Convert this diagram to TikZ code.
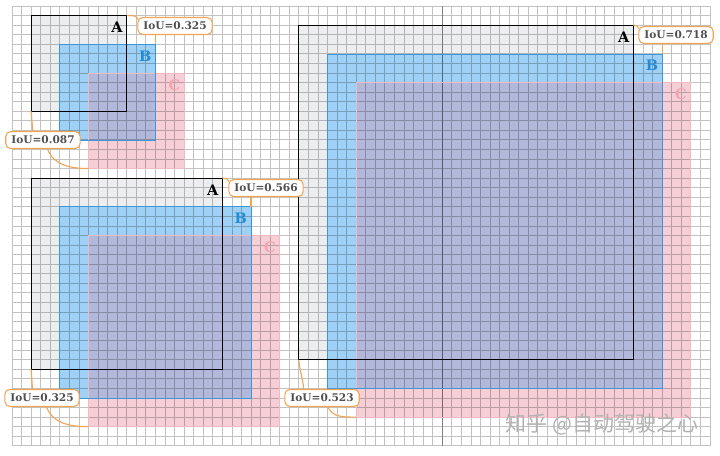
\documentclass[tikz,border=0pt]{standalone}
\usepackage{fontspec}
\newfontfamily\wmfont{Noto Sans CJK SC}
\newfontfamily\ioufont{DejaVu Serif}
\definecolor{boxgray}{RGB}{236,237,238}
\definecolor{boxblue}{RGB}{158,209,245}
\definecolor{boxpink}{RGB}{246,206,213}
\definecolor{boxmix}{RGB}{178,184,218}
\definecolor{lineblue}{RGB}{60,150,215}
\definecolor{linepink}{RGB}{240,185,195}
\definecolor{txtblue}{RGB}{35,140,215}
\definecolor{txtpink}{RGB}{242,165,175}
\definecolor{iouorange}{RGB}{240,165,85}
\definecolor{ioutext}{RGB}{80,80,80}
\def\cellsz{9.56pt}

\begin{document}
\begin{tikzpicture}[x=\cellsz, y=-\cellsz]
        \tikzstyle{every node}=[inner sep=0pt, outer sep=0pt]
        \tikzstyle{boxa}=[anchor=north west, fill=boxgray]
        \tikzstyle{boxb}=[anchor=north west, fill=boxblue]
        \tikzstyle{boxc}=[anchor=north west, fill=boxpink]
        \tikzstyle{gridline}=[draw=black, draw opacity=0.24, line width=0.7pt]
        \tikzstyle{letter}=[anchor=north east, inner xsep=4pt, inner ysep=6.5pt, font=\ioufont\fontsize{14.5}{15}\selectfont\bfseries]
        \tikzstyle{iou}=[draw=iouorange, fill=white, line width=1.1pt, rounded corners=5pt, inner xsep=5.5pt, minimum height=17pt, text=ioutext, font=\ioufont\fontsize{10.6}{12}\selectfont\bfseries]
        \tikzstyle{link}=[draw=iouorange, line width=1.1pt]
        \fill[white] (-1.255,-0.628) rectangle (74.06,47.07);
        \useasboundingbox (-1.255,-0.628) rectangle (74.06,47.07);
        \foreach \s/\x/\y/\n in {1/2/1/10, 2/2/18/20, 3/30/2/35} {
            \node[boxa, minimum size=\n*\cellsz] (A\s) at (\x,\y) {};
            \node[boxb, minimum size=\n*\cellsz] (B\s) at (\x+3,\y+3) {};
            \node[boxc, minimum size=\n*\cellsz] (C\s) at (\x+6,\y+6) {};
            \fill[boxmix] (C\s.north west) rectangle (B\s.south east);
        }
        \draw[gridline] \foreach \i in {0,...,73}{(\i,0) -- (\i,46)} \foreach \j in {0,...,46}{(0,\j) -- (73,\j)};
        \draw[gridline, draw opacity=0.34] (45,0) -- (45,46);
        \foreach \s in {1,2,3} {
            \draw[linepink, line width=0.6pt] (C\s.north west) rectangle (C\s.south east);
            \draw[lineblue, line width=0.6pt] (B\s.north west) rectangle (B\s.south east);
            \draw[black, line width=0.7pt] (A\s.north west) rectangle (A\s.south east);
            \node[letter, text=black] (la\s) at (A\s.north east) {A};
            \node[letter, text=txtblue] (lb\s) at (B\s.north east) {B};
            \node[letter, text=txtpink] (lc\s) at (C\s.north east) {C};
        }
        \node[iou] (ab1) at (17.05,2.09) {IoU=0.325};
        \node[iou] (ac1) at (3.24,14.02) {IoU=0.087};
        \node[iou] (ab2) at (26.57,19.04) {IoU=0.566};
        \node[iou] (ac2) at (3.14,41.0) {IoU=0.325};
        \node[iou] (ab3) at (69.46,3.03) {IoU=0.718};
        \node[iou] (ac3) at (32.43,41.0) {IoU=0.523};
        \draw[link] (A1.north east) to[out=0,in=100] (ab1.170);
        \draw[link] (ab1.south -| B1.north east) -- (B1.north east);
        \draw[link] (A1.south west) to[out=-85,in=95] (ac1.140);
        \draw[link] (ac1.-63) to[out=-70,in=180] (C1.south west);
        \draw[link] (A2.north east) to[out=0,in=100] (ab2.170);
        \draw[link] (ab2.south -| B2.north east) -- (B2.north east);
        \draw[link] (A2.south west) to[out=-85,in=95] (ac2.138);
        \draw[link] (ac2.-63) to[out=-70,in=180] (C2.south west);
        \draw[link] (A3.north east) to[out=0,in=100] (ab3.170);
        \draw[link] (ab3.south -| B3.north east) -- (B3.north east);
        \draw[link] (A3.south west) to[out=-85,in=95] (ac3.155);
        \draw[link] (ac3.-56) to[out=-70,in=180] (C3.south west);
        \node[text=black!30, font=\wmfont\fontsize{21}{21}\selectfont] (wm) at (61.7,43.8) {知乎 @自动驾驶之心};
    \end{tikzpicture}
\end{document}
